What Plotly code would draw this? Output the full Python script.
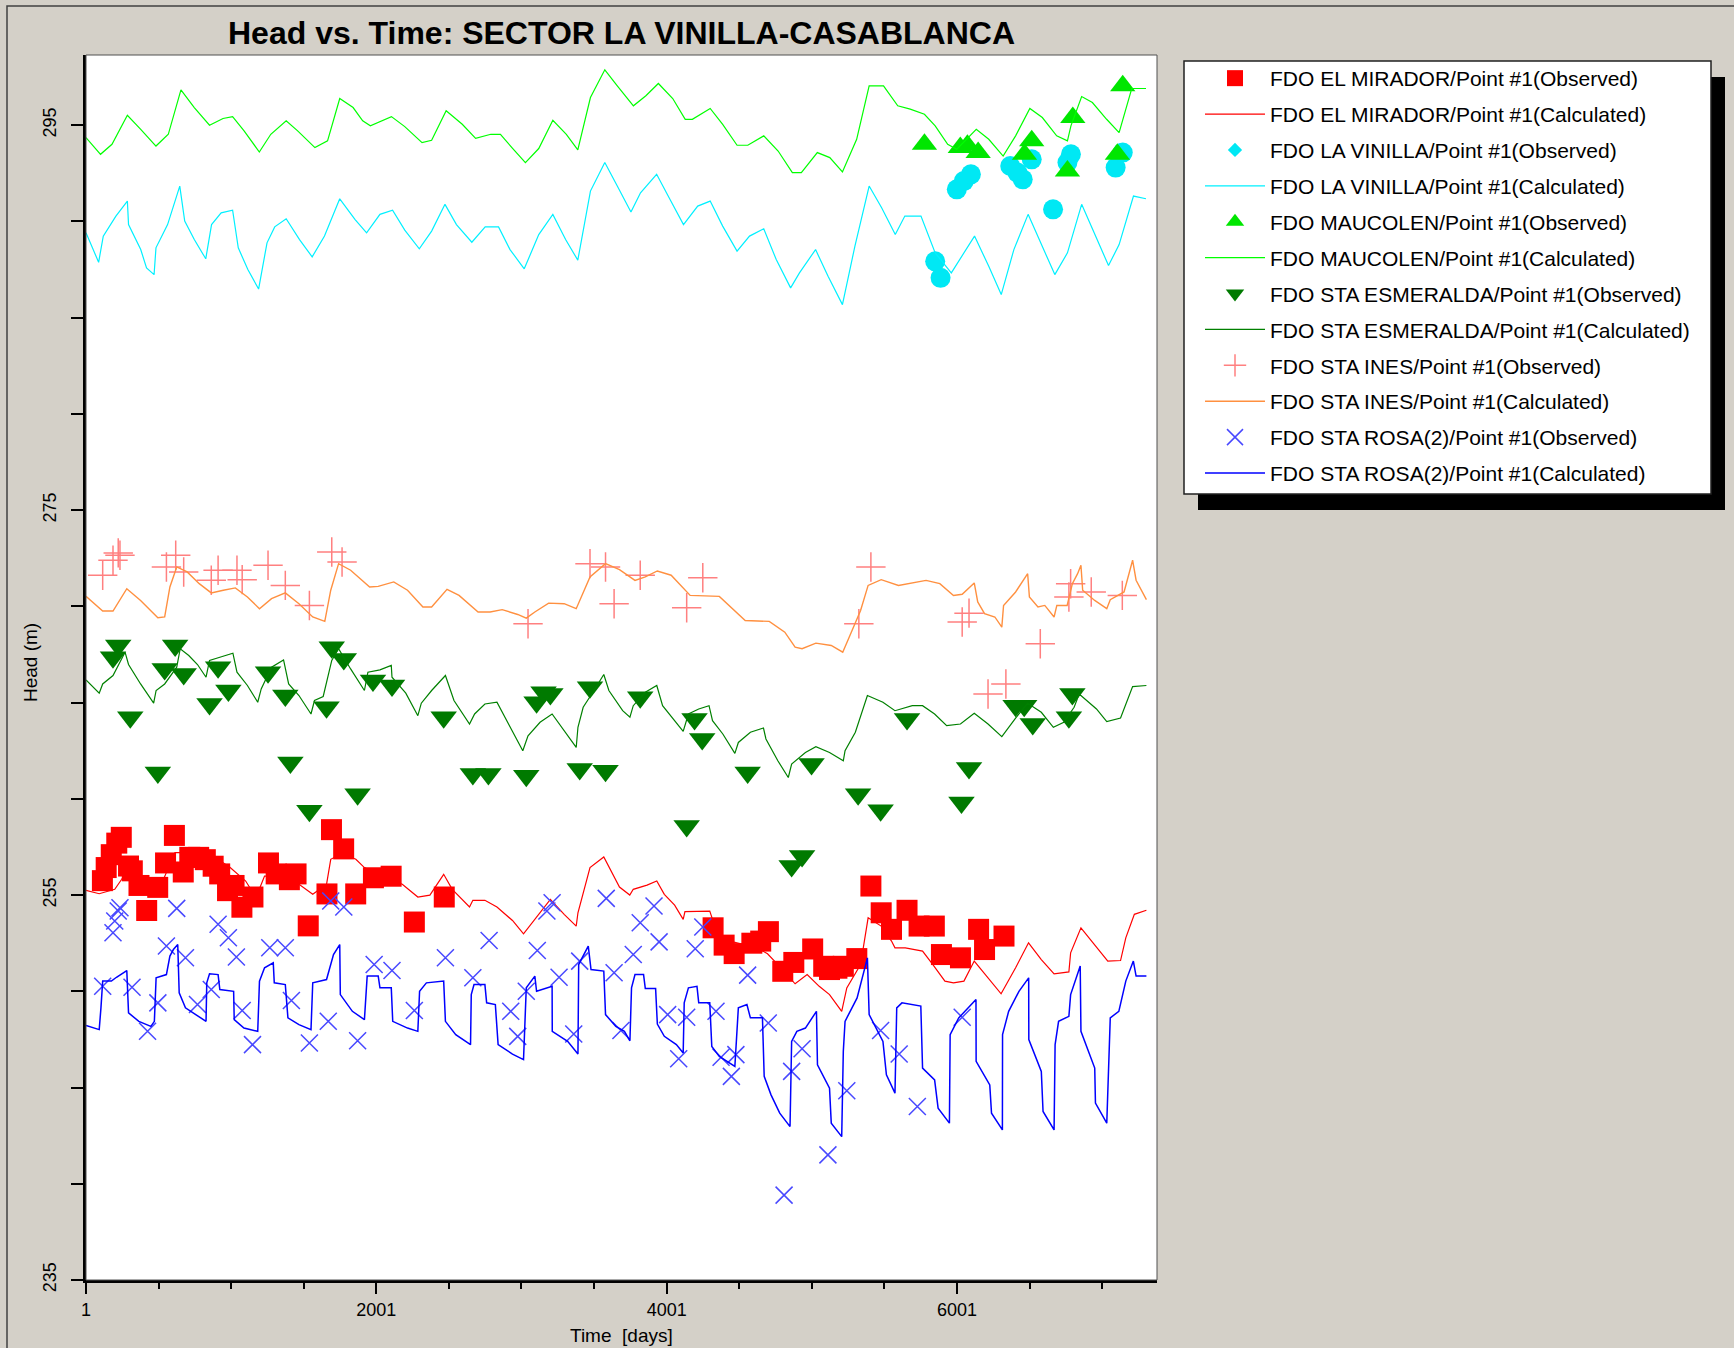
import plotly.graph_objects as go

FONT = "Liberation Sans, Arial, sans-serif"

# ---------------- data ----------------
mirador_obs_day = [114, 140, 175, 213, 244, 294, 320, 366, 419, 495, 549, 610, 671, 716, 777, 823, 877, 922, 976, 1021,
                   1075, 1151, 1258, 1311, 1402, 1448, 1532, 1661, 1692, 1776, 1859, 1981, 2103, 2263, 2469,
                   4321, 4397, 4466, 4588, 4649, 4702, 4801, 4877, 5007, 5083, 5123, 5174, 5218, 5311, 5408,
                   5479, 5550, 5657, 5740, 5845, 5894, 6025, 6150, 6191, 6325]
mirador_obs_head = [255.75, 256.43, 257.1, 257.7, 258.0, 256.51, 256.26, 255.5, 254.2, 255.4, 256.67, 258.1, 256.2, 256.96,
                    256.96, 256.84, 256.5, 256.1, 255.23, 255.5, 254.37, 254.9, 256.67, 256.1, 255.8, 256.1, 253.4, 255.06,
                    258.4, 257.4, 255.06, 255.9, 255.98, 253.6, 254.9, 253.3, 252.4, 251.96, 252.5, 252.61, 253.1, 251.04,
                    251.5, 252.2, 251.3, 251.13, 251.2, 251.3, 251.7, 255.47, 254.08, 253.22, 254.21, 253.39, 253.39,
                    251.91, 251.74, 253.22, 252.17, 252.87]

mirador_calc_day = [1, 92, 199, 247, 294, 413, 520, 614, 709, 781, 875, 994, 1101, 1172, 1231, 1326, 1421, 1504, 1563,
                    1658, 1687, 1765, 1860, 1919, 2038, 2180, 2287, 2370, 2465, 2524, 2643, 2666, 2749, 2832, 2939, 3015,
                    3082, 3200, 3295, 3378, 3390, 3473, 3568, 3627, 3676, 3747, 3771, 3866, 3933, 3985, 4056, 4115, 4127,
                    4298, 4317, 4364, 4436, 4625, 4696, 4767, 4886, 4969, 5052, 5123, 5207, 5242, 5337, 5389, 5479, 5550,
                    5574, 5645, 5764, 5835, 5918, 5977, 6049, 6120, 6215, 6305, 6405, 6494, 6582, 6670, 6772, 6784, 6855,
                    6950, 7040, 7128, 7164, 7223, 7306]
mirador_calc_head = [255.25, 255.07, 255.30, 255.82, 256.43, 255.82, 255.56, 257.21, 257.21, 256.86, 257.04, 256.43,
                     255.73, 254.87, 255.99, 255.99, 255.82, 255.39, 255.04, 255.56, 256.86, 257.16, 256.86, 256.43,
                     255.99, 255.56, 254.90, 255.00, 256.08, 255.30, 254.38, 254.73, 254.73, 254.38, 253.68, 252.99,
                     253.65, 254.78, 254.00, 253.39, 254.08, 256.43, 256.98, 256.17, 255.42, 255.00, 255.30, 255.52,
                     255.73, 255.04, 254.48, 253.74, 254.14, 254.17, 253.74, 252.96, 252.61, 252.26, 251.95, 251.39,
                     250.39, 250.87, 250.26, 249.83, 248.96, 250.18, 251.39, 253.82, 253.39, 252.61, 252.26, 252.26,
                     252.09, 251.39, 250.53, 250.44, 250.53, 251.57, 250.70, 249.87, 251.22, 252.52, 251.65, 250.91,
                     251.01, 252.00, 253.30, 252.43, 251.57, 251.60, 252.78, 254.00, 254.21]

vinilla_obs_day = [5851, 5888, 6000, 6048, 6097, 6368, 6417, 6454, 6516, 6663, 6762, 6786, 7094, 7143]
vinilla_obs_head = [287.93, 287.07, 291.67, 292.10, 292.45, 292.88, 292.54, 292.19, 293.23, 290.63, 293.06, 293.49,
                    292.80, 293.58]

vinilla_calc_day = [1, 88, 120, 207, 286, 294, 378, 418, 470, 483, 563, 647, 681, 747, 826, 866, 932, 1011, 1050, 1116,
                    1190, 1248, 1301, 1380, 1472, 1559, 1644, 1749, 1855, 1934, 2026, 2113, 2197, 2297, 2382, 2474, 2553,
                    2659, 2751, 2843, 2922, 3020, 3120, 3217, 3305, 3389, 3476, 3575, 3661, 3755, 3821, 3932, 4018, 4117,
                    4215, 4301, 4387, 4486, 4572, 4670, 4756, 4855, 4916, 5027, 5113, 5212, 5298, 5396, 5482, 5576, 5642,
                    5753, 5851, 5962, 6122, 6220, 6306, 6393, 6491, 6577, 6675, 6762, 6860, 6946, 7045, 7118, 7217, 7303]
vinilla_calc_head = [289.41, 287.88, 289.24, 290.28, 291.06, 289.84, 288.54, 287.59, 287.24, 288.63, 289.84, 291.84,
                     290.02, 289.06, 288.06, 289.84, 290.45, 290.59, 288.63, 287.50, 286.49, 288.89, 289.72, 290.14,
                     289.06, 288.16, 289.24, 291.18, 290.10, 289.41, 290.37, 290.59, 289.55, 288.58, 289.50, 290.89,
                     289.84, 288.92, 289.72, 289.72, 288.54, 287.54, 289.32, 290.37, 289.06, 287.99, 291.58, 293.06,
                     291.84, 290.49, 291.49, 292.45, 291.23, 289.84, 290.80, 291.06, 289.76, 288.46, 289.24, 289.62,
                     288.02, 286.55, 287.33, 288.54, 287.15, 285.68, 288.72, 291.84, 290.71, 289.32, 290.28, 290.28,
                     288.37, 287.33, 289.24, 287.67, 286.20, 288.54, 290.37, 288.89, 287.24, 288.37, 290.89, 289.41,
                     287.71, 288.80, 291.32, 291.18]

maucolen_obs_day = [5777, 6024, 6073, 6147, 6466, 6516, 6762, 6799, 7106, 7143]
maucolen_obs_head = [294.01, 293.84, 293.96, 293.58, 293.49, 294.19, 292.62, 295.40, 293.49, 297.05]

maucolen_calc_day = [1, 101, 180, 286, 378, 483, 568, 655, 747, 852, 945, 1011, 1090, 1195, 1274, 1380, 1459, 1578,
                     1665, 1749, 1841, 1907, 1960, 2105, 2197, 2316, 2382, 2482, 2593, 2685, 2790, 2856, 2935, 3028,
                     3120, 3217, 3310, 3389, 3476, 3575, 3661, 3772, 3858, 3944, 4043, 4129, 4178, 4301, 4387, 4486,
                     4560, 4670, 4769, 4867, 4929, 5039, 5125, 5212, 5310, 5396, 5495, 5593, 5679, 5777, 5851, 5937,
                     5999, 6134, 6220, 6319, 6405, 6503, 6589, 6688, 6762, 6786, 6860, 6934, 7032, 7118, 7205, 7303]
maucolen_calc_head = [294.36, 293.49, 294.01, 295.52, 294.79, 293.92, 294.53, 296.84, 295.92, 295.0, 295.35, 295.45,
                      294.71, 293.61, 294.53, 295.23, 294.71, 293.84, 294.19, 296.39, 295.92, 295.23, 294.97, 295.45,
                      294.93, 294.10, 294.22, 295.75, 295.05, 294.32, 294.53, 294.53, 293.84, 293.06, 293.79, 295.26,
                      294.53, 293.72, 296.44, 297.88, 297.05, 296.01, 296.53, 297.17, 296.39, 295.31, 295.31, 295.87,
                      295.05, 293.96, 293.96, 294.45, 293.66, 292.54, 292.54, 293.58, 293.32, 292.57, 294.27, 297.05,
                      297.05, 296.01, 295.84, 295.57, 294.97, 294.01, 293.75, 294.79, 294.27, 293.40, 294.45, 295.87,
                      295.40, 294.45, 294.19, 294.97, 296.49, 296.18, 295.31, 294.62, 296.91, 296.91]

esmeralda_obs_day = [223, 187, 306, 615, 543, 674, 496, 852, 911, 982, 1255, 1374, 1409, 1540, 1658, 1694, 1777, 1872,
                     1978, 2109, 2465, 2666, 2773, 3034, 3105, 3153, 3200, 3402, 3473, 3580, 3819, 4193, 4246, 4139,
                     4559, 4999, 5320, 5475, 5657, 6084, 6032, 6405, 6464, 6523, 6796, 6772, 4862, 4934]
esmeralda_obs_head = [267.97, 267.36, 264.24, 267.97, 266.75, 266.49, 261.37, 264.93, 266.84, 265.63, 266.58, 265.37,
                      261.89, 259.38, 264.76, 267.88, 267.27, 260.24, 266.15, 265.89, 264.24, 261.29, 261.29, 261.20,
                      265.02, 265.54, 265.45, 261.55, 265.80, 261.46, 265.28, 264.15, 263.11, 258.59, 261.37, 261.81,
                      260.24, 259.41, 264.15, 261.60, 259.81, 264.84, 264.84, 263.89, 265.45, 264.24, 256.51, 257.03]

esmeralda_calc_day = [1, 92, 116, 187, 270, 294, 377, 467, 484, 543, 626, 650, 709, 769, 828, 852, 923, 1013, 1041,
                      1113, 1184, 1208, 1279, 1362, 1397, 1468, 1551, 1575, 1635, 1694, 1741, 1824, 1919, 1943, 2026,
                      2104, 2109, 2204, 2287, 2311, 2382, 2477, 2536, 2643, 2678, 2749, 2832, 2916, 3010, 3046, 3129,
                      3212, 3295, 3378, 3390, 3426, 3485, 3568, 3603, 3698, 3748, 3771, 3854, 3933, 3973, 4044, 4115,
                      4151, 4222, 4293, 4317, 4388, 4471, 4495, 4578, 4668, 4685, 4767, 4839, 4862, 4957, 5029, 5123,
                      5218, 5230, 5301, 5337, 5384, 5491, 5574, 5693, 5764, 5847, 5930, 6025, 6120, 6215, 6310, 6405,
                      6488, 6582, 6665, 6737, 6808, 6843, 6962, 7033, 7128, 7211, 7306]
esmeralda_calc_head = [266.18, 265.49, 265.97, 266.41, 267.62, 266.98, 265.97, 264.97, 265.63, 265.97, 266.84, 267.80,
                       267.45, 266.98, 266.32, 267.19, 267.36, 267.57, 266.58, 265.89, 265.02, 265.71, 266.84, 267.22,
                       265.97, 265.37, 264.41, 265.11, 265.32, 267.19, 267.80, 266.75, 265.63, 266.58, 266.70, 266.93,
                       266.32, 265.49, 264.32, 264.97, 265.63, 266.41, 265.11, 263.89, 264.41, 264.93, 265.02, 263.80,
                       262.50, 263.28, 263.98, 264.41, 263.54, 262.67, 263.72, 264.76, 265.45, 266.46, 265.63, 264.58,
                       264.24, 264.84, 265.54, 265.89, 264.84, 264.15, 263.51, 264.41, 264.67, 264.84, 264.06, 263.37,
                       262.36, 262.93, 263.46, 263.68, 263.11, 261.98, 261.11, 261.81, 262.41, 262.71, 262.41, 261.98,
                       262.50, 263.46, 264.24, 265.37, 265.02, 264.58, 264.84, 264.84, 264.41, 263.80, 263.89, 264.45,
                       263.89, 263.23, 264.20, 264.97, 264.50, 263.72, 263.98, 264.76, 265.45, 264.67, 264.01, 264.20,
                       265.83, 265.89]

ines_obs_day = [116, 187, 223, 235, 555, 619, 674, 864, 911, 1041, 1077, 1255, 1374, 1540, 1694, 1765, 3046, 3473,
                3580, 3639, 3819, 4139, 4250, 5325, 5408, 6037, 6084, 6215, 6338, 6575, 6772, 6784, 6926, 7140]
ines_obs_head = [271.62, 272.40, 272.78, 272.66, 272.05, 272.66, 271.79, 271.36, 271.88, 271.88, 271.39, 272.14,
                 271.09, 270.05, 272.83, 272.31, 269.10, 272.22, 272.05, 270.14, 271.62, 269.93, 271.49, 269.10,
                 272.05, 269.19, 269.65, 265.45, 265.97, 268.06, 270.49, 271.18, 270.75, 270.57]

ines_calc_day = [1, 116, 187, 282, 377, 496, 543, 579, 626, 698, 781, 864, 947, 1030, 1113, 1196, 1279, 1374, 1468,
                 1563, 1646, 1687, 1741, 1824, 1955, 2014, 2121, 2216, 2322, 2382, 2488, 2571, 2702, 2785, 2868, 2975,
                 3034, 3093, 3188, 3295, 3378, 3473, 3580, 3676, 3783, 3854, 3937, 4032, 4163, 4364, 4542, 4708, 4815,
                 4886, 4934, 5029, 5135, 5214, 5254, 5337, 5389, 5479, 5598, 5693, 5788, 5883, 5977, 6037, 6120, 6144,
                 6191, 6262, 6310, 6322, 6405, 6488, 6500, 6559, 6606, 6670, 6689, 6760, 6796, 6832, 6855, 6867, 6950,
                 7033, 7057, 7152, 7211, 7235, 7306]
ines_calc_head = [270.52, 269.76, 269.76, 270.92, 270.31, 269.41, 269.45, 271.01, 272.05, 271.79, 271.18, 270.70,
                  270.84, 270.96, 270.49, 269.88, 270.40, 270.70, 270.14, 269.45, 269.22, 270.84, 272.22, 271.88,
                  271.01, 271.04, 271.27, 270.84, 269.97, 269.97, 270.89, 270.57, 269.71, 269.71, 269.83, 269.58,
                  269.39, 269.71, 270.17, 270.14, 269.88, 271.53, 272.22, 271.91, 271.35, 271.53, 271.84, 271.62,
                  270.57, 270.52, 269.27, 269.22, 268.66, 267.88, 267.80, 268.09, 267.97, 267.62, 268.32, 269.79,
                  271.09, 271.39, 271.09, 271.22, 271.35, 271.18, 270.57, 270.63, 271.22, 270.23, 269.62, 269.45,
                  268.92, 270.05, 270.75, 271.70, 270.49, 269.97, 270.05, 269.45, 270.05, 270.05, 271.18, 271.70,
                  272.14, 270.84, 270.31, 269.88, 270.35, 270.75, 272.40, 271.36, 270.35]

rosa_obs_day = [223, 235, 199, 187, 626, 911, 982, 1037, 555, 686, 1267, 1374, 116, 318, 496, 425, 769, 864, 1077,
                1148, 1416, 1540, 1670, 1687, 1777, 1872, 1986, 2109, 2263, 2477, 2666, 2778, 2927, 2975, 3034, 3110,
                3176, 3212, 3260, 3361, 3402, 3585, 3639, 3686, 3914, 3819, 3771, 3949, 4250, 4198, 4559, 4008, 4139,
                4341, 4084, 4376, 4478, 4447, 4701, 4934, 4862, 5242, 5475, 5603, 5728, 6037, 5112, 4810]
rosa_obs_head = [254.17, 254.34, 253.65, 253.04, 254.31, 253.48, 252.78, 251.78, 252.35, 251.74, 252.26, 252.26,
                 250.26, 250.21, 249.40, 247.92, 249.31, 250.09, 249.00, 247.23, 249.52, 247.31, 248.44, 254.69,
                 254.38, 247.43, 251.39, 251.08, 249.00, 251.74, 250.70, 252.64, 248.96, 247.66, 250.00, 252.12,
                 254.17, 254.60, 250.73, 247.78, 251.57, 254.83, 250.96, 247.96, 254.43, 253.56, 251.91, 252.57,
                 253.34, 252.21, 250.84, 248.79, 248.65, 248.96, 246.50, 246.57, 246.71, 245.58, 248.35, 247.02,
                 245.84, 244.83, 247.96, 246.74, 244.01, 248.65, 241.50, 239.41]

rosa_calc_day = [1, 92, 104, 116, 176, 211, 282, 294, 365, 448, 472, 484, 555, 579, 603, 633, 643, 686, 757, 828, 833,
                 852, 911, 923, 1018, 1022, 1089, 1184, 1196, 1231, 1291, 1298, 1374, 1392, 1468, 1551, 1563, 1658,
                 1706, 1749, 1753, 1836, 1919, 1938, 2014, 2026, 2104, 2114, 2216, 2287, 2299, 2346, 2465, 2477, 2548,
                 2650, 2655, 2674, 2749, 2761, 2821, 2840, 2939, 3015, 3034, 3093, 3105, 3212, 3213, 3319, 3390, 3395,
                 3461, 3480, 3568, 3580, 3651, 3710, 3748, 3759, 3783, 3842, 3854, 3925, 3937, 3985, 4068, 4115, 4122,
                 4151, 4210, 4222, 4298, 4312, 4364, 4471, 4495, 4554, 4578, 4661, 4673, 4720, 4780, 4851, 4862, 4898,
                 4957, 5033, 5040, 5123, 5135, 5207, 5218, 5230, 5313, 5384, 5396, 5491, 5515, 5574, 5586, 5622, 5752,
                 5764, 5847, 5871, 5949, 5954, 6013, 6132, 6133, 6227, 6239, 6314, 6315, 6357, 6428, 6495, 6496, 6582,
                 6594, 6670, 6677, 6701, 6772, 6784, 6850, 6855, 6950, 6955, 7033, 7040, 7057, 7116, 7164, 7216, 7235,
                 7306]
rosa_calc_head = [248.23, 248.01, 249.14, 250.53, 250.53, 250.73, 251.08, 248.88, 248.44, 248.18, 248.44, 250.70,
                  250.87, 251.83, 252.17, 252.43, 249.92, 249.14, 248.79, 248.44, 250.44, 250.91, 250.87, 250.09,
                  250.00, 248.53, 248.09, 247.92, 250.53, 251.22, 251.48, 250.44, 250.35, 248.62, 248.27, 248.01,
                  250.44, 250.61, 251.91, 252.43, 249.83, 248.96, 248.53, 250.79, 250.79, 250.18, 250.18, 248.44,
                  248.09, 247.92, 250.00, 250.44, 250.53, 248.44, 247.75, 247.23, 249.83, 250.35, 250.35, 249.40,
                  249.31, 247.23, 246.74, 246.45, 250.18, 250.79, 250.00, 250.26, 247.92, 247.40, 246.74, 251.39,
                  252.35, 251.13, 251.05, 248.79, 248.18, 247.92, 247.43, 250.18, 250.87, 250.87, 250.14, 250.14,
                  248.30, 247.66, 247.23, 246.79, 249.40, 250.18, 250.26, 249.40, 249.40, 247.14, 246.62, 246.10,
                  249.14, 249.31, 248.62, 248.62, 245.58, 244.62, 243.67, 242.97, 247.40, 247.92, 248.09, 248.96,
                  246.18, 244.97, 243.15, 242.45, 246.88, 248.44, 249.66, 251.74, 248.79, 247.40, 245.66, 244.71,
                  249.14, 249.40, 249.23, 246.01, 245.40, 243.93, 243.15, 247.75, 248.62, 249.57, 246.36, 245.14,
                  243.67, 242.80, 247.75, 248.96, 250.00, 250.70, 247.49, 245.84, 243.76, 242.80, 247.23, 248.44,
                  248.70, 249.83, 251.31, 247.92, 246.01, 244.19, 243.15, 245.14, 248.62, 248.96, 250.53, 251.57,
                  250.79, 250.79]

x_tick_vals = [1, 2001, 4001, 6001]
x_tick_text = ["1", "2001", "4001", "6001"]
y_tick_vals = [235, 255, 275, 295]
y_tick_text = ["235", "255", "275", "295"]

# ---------------- figure ----------------
W, H = 1734, 1348
L, R, T, B = 86, 577, 55, 68
PW, PH = W - L - R, H - T - B


def px(x):
    return (x - L) / PW


def py(y):
    return (H - B - y) / PH


fig = go.Figure()

rank = [0]


def add(name, x, y, mode, color, symbol=None, size=None, lw=1.2, mlw=0, legend_symbol=None, legend_size=None):
    rank[0] += 1
    if mode == "markers":
        mk = dict(symbol=symbol, size=size, color=color, line=dict(width=mlw, color=color))
        fig.add_trace(go.Scatter(x=x, y=y, mode="markers", name=name, marker=mk,
                                 showlegend=legend_symbol is None, legendgroup=name,
                                 legendrank=rank[0]))
        if legend_symbol is not None:
            fig.add_trace(go.Scatter(x=[None], y=[None], mode="markers", name=name, legendgroup=name,
                                     legendrank=rank[0],
                                     marker=dict(symbol=legend_symbol, size=legend_size, color=color)))
    else:
        fig.add_trace(go.Scatter(x=x, y=y, mode="lines", name=name, line=dict(color=color, width=lw),
                                 legendgroup=name, legendrank=rank[0]))


add("FDO EL MIRADOR/Point #1(Observed)", mirador_obs_day, mirador_obs_head, "markers", "#FF0000", "square", 21)
add("FDO EL MIRADOR/Point #1(Calculated)", mirador_calc_day, mirador_calc_head, "lines", "#FF0000", lw=1.2)
add("FDO LA VINILLA/Point #1(Observed)", vinilla_obs_day, vinilla_obs_head, "markers", "#00E8F4", "circle", 20,
    legend_symbol="diamond", legend_size=11)
add("FDO LA VINILLA/Point #1(Calculated)", vinilla_calc_day, vinilla_calc_head, "lines", "#00F0FF", lw=1.2)
add("FDO MAUCOLEN/Point #1(Observed)", maucolen_obs_day, maucolen_obs_head, "markers", "#00E600", "triangle-up", 22)
add("FDO MAUCOLEN/Point #1(Calculated)", maucolen_calc_day, maucolen_calc_head, "lines", "#00FF00", lw=1.2)
add("FDO STA ESMERALDA/Point #1(Observed)", esmeralda_obs_day, esmeralda_obs_head, "markers", "#007A00",
    "triangle-down", 23)
add("FDO STA ESMERALDA/Point #1(Calculated)", esmeralda_calc_day, esmeralda_calc_head, "lines", "#008000", lw=1.2)
add("FDO STA INES/Point #1(Observed)", ines_obs_day, ines_obs_head, "markers", "#FF8080", "cross-thin", 21, mlw=1.5)
add("FDO STA INES/Point #1(Calculated)", ines_calc_day, ines_calc_head, "lines", "#FF9040", lw=1.4)
add("FDO STA ROSA(2)/Point #1(Observed)", rosa_obs_day, rosa_obs_head, "markers", "#4848FF", "x-thin", 17, mlw=1.5)
add("FDO STA ROSA(2)/Point #1(Calculated)", rosa_calc_day, rosa_calc_head, "lines", "#0000FF", lw=1.5)

axis_font = dict(family=FONT, size=18, color="black")

fig.update_xaxes(range=[1, 7379], tickmode="array", tickvals=x_tick_vals, ticktext=x_tick_text,
                 ticks="outside", ticklen=11, tickwidth=1.5, tickcolor="black",
                 minor=dict(tick0=1, dtick=500, ticks="outside", ticklen=6, tickwidth=1.5, tickcolor="black"),
                 showline=True, linecolor="black", linewidth=3, showgrid=False, zeroline=False,
                 tickfont=axis_font, ticklabelstandoff=0)
fig.update_yaxes(range=[235, 298.65], tickmode="array", tickvals=y_tick_vals, ticktext=y_tick_text,
                 ticks="outside", ticklen=12, tickwidth=1.5, tickcolor="black", tickangle=-90,
                 minor=dict(tick0=235, dtick=5, ticks="outside", ticklen=12, tickwidth=1.5, tickcolor="black"),
                 showline=True, linecolor="black", linewidth=3, showgrid=False, zeroline=False,
                 tickfont=axis_font, ticklabelstandoff=8)

shapes = [
    # outer frame
    dict(type="rect", xref="paper", yref="paper", x0=px(7), x1=px(1745), y0=py(6), y1=py(1360),
         line=dict(color="#404040", width=1.5), fillcolor="rgba(0,0,0,0)", layer="below"),
    # plot border (top/right)
    dict(type="rect", xref="paper", yref="paper", x0=0, x1=1, y0=0, y1=1,
         line=dict(color="#505050", width=1), fillcolor="rgba(0,0,0,0)", layer="above"),
    # legend shadow
    dict(type="rect", xref="paper", yref="paper", x0=px(1198), x1=px(1725), y0=py(77), y1=py(510),
         line=dict(width=0), fillcolor="black", layer="below"),
    # legend box
    dict(type="rect", xref="paper", yref="paper", x0=px(1184), x1=px(1711), y0=py(61), y1=py(494),
         line=dict(color="#202020", width=1.5), fillcolor="white", layer="below"),
]

annotations = [
    dict(text="<b>Head vs. Time: SECTOR LA VINILLA-CASABLANCA</b>", xref="paper", yref="paper",
         x=px(621), y=py(33), xanchor="center", yanchor="middle", showarrow=False,
         font=dict(family=FONT, size=32, color="black")),
    dict(text="Time  [days]", xref="paper", yref="paper", x=px(621), y=py(1335), xanchor="center",
         yanchor="middle", showarrow=False, font=dict(family=FONT, size=19, color="black")),
    dict(text="Head (m)", xref="paper", yref="paper", x=px(30), y=py(663), xanchor="center", yanchor="middle",
         textangle=-90, showarrow=False, font=dict(family=FONT, size=19, color="black")),
]

fig.update_layout(
    width=W, height=H, autosize=False,
    margin=dict(l=L, r=R, t=T, b=B, pad=0),
    paper_bgcolor="#D4D0C8", plot_bgcolor="white",
    shapes=shapes, annotations=annotations,
    showlegend=True,
    legend=dict(x=px(1200), y=py(58), xanchor="left", yanchor="top", bgcolor="rgba(0,0,0,0)",
                borderwidth=0, font=dict(family=FONT, size=21, color="black"),
                traceorder="grouped", tracegroupgap=5.6, itemwidth=60, itemsizing="trace"),
    hovermode=False,
)

fig.write_html("out.html", include_plotlyjs=True, config={"displayModeBar": False},
               post_script="document.body.style.margin='0px';document.body.style.background='#D4D0C8';")
